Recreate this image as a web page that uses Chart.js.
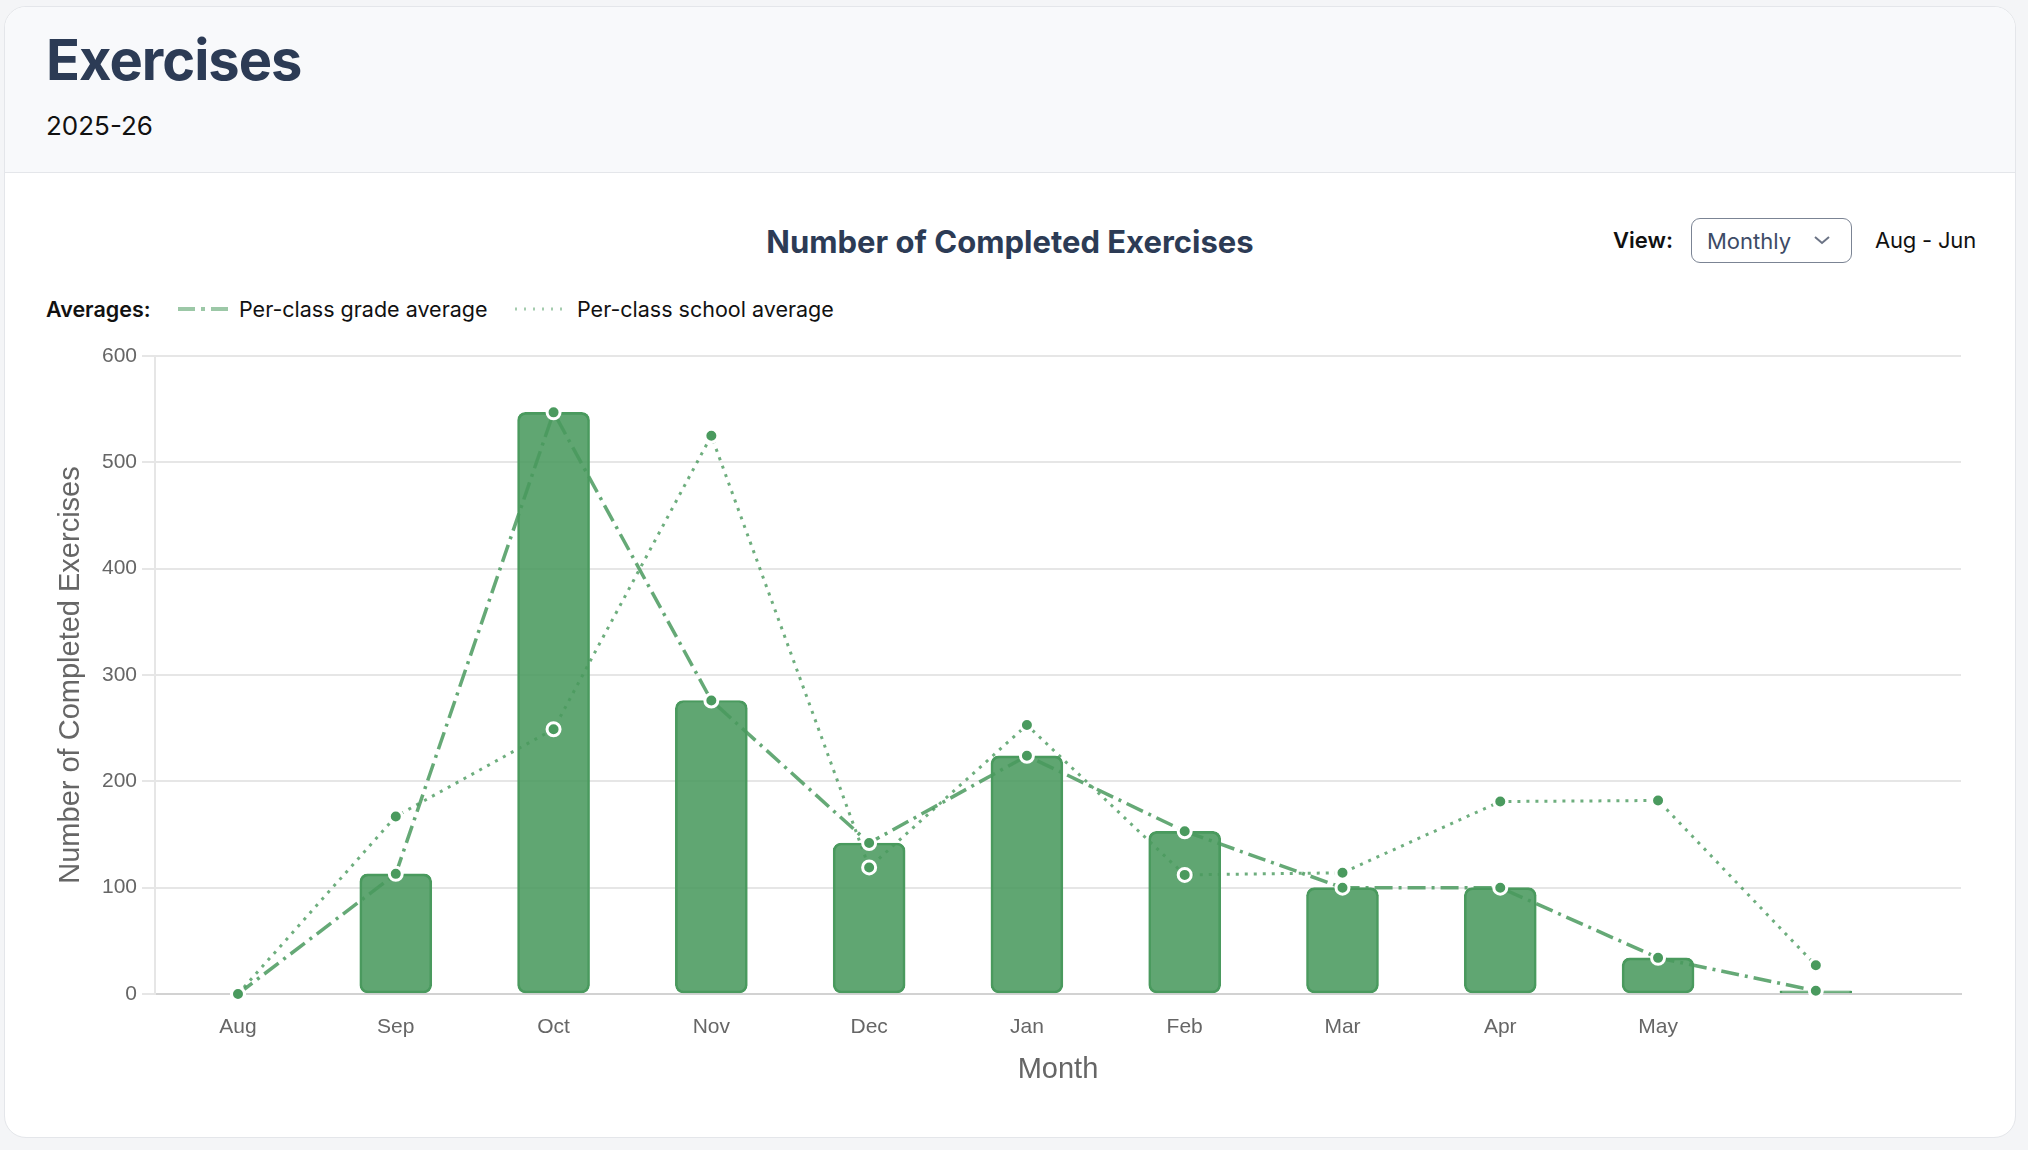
<!DOCTYPE html>
<html>
<head>
<meta charset="utf-8">
<title>Exercises</title>
<script src="https://cdn.jsdelivr.net/npm/chart.js@4.4.1/dist/chart.umd.min.js"></script>
<style>
  html, body { margin: 0; padding: 0; }
  body {
    width: 2028px; height: 1150px; position: relative; overflow: hidden;
    background: #f4f5f7;
    font-family: Inter, "Noto Sans", sans-serif;
  }
  .card {
    position: absolute; left: 4px; top: 6px; width: 2012px; height: 1132px;
    box-sizing: border-box; background: #fff;
    border: 1px solid #e4e6ea; border-radius: 22px; overflow: hidden;
  }
  .card-head {
    position: absolute; left: 0; top: 0; right: 0; height: 165px;
    background: #f8f9fb; border-bottom: 1px solid #e4e6ea;
  }
  .abs { position: absolute; white-space: nowrap; line-height: 1; }
  .title { left: 46px; top: 32px; font-size: 56px; font-weight: 700; color: #2c3b55; letter-spacing: -1px; }
  .year { left: 46px; top: 113px; font-size: 26px; color: #111; }
  .chart-title { left: 0; width: 2020px; text-align: center; top: 226px; font-size: 31px; font-weight: 700; color: #2c3b55; }
  .view { left: 1613px; top: 229px; font-size: 22px; font-weight: 600; color: #111; }
  .select {
    position: absolute; left: 1691px; top: 218px; width: 161px; height: 45px;
    box-sizing: border-box; border: 1.5px solid #7b8494; border-radius: 9px; background: #fff;
  }
  .select span { left: 15px; top: 11px; font-size: 22px; color: #3d4b66; }
  .select svg { position: absolute; left: 121px; top: 15px; }
  .range { left: 1875px; top: 229px; font-size: 22px; color: #111; letter-spacing: -0.2px; }
  .legend-label { top: 299px; font-size: 21.5px; color: #111; }
  #wrap { position: absolute; left: 0; top: 330px; width: 2000px; height: 774px; }
</style>
</head>
<body>
<div class="card"><div class="card-head"></div></div>

<div class="abs title">Exercises</div>
<div class="abs year">2025-26</div>

<div class="abs chart-title">Number of Completed Exercises</div>
<div class="abs view">View:</div>
<div class="select">
  <span class="abs">Monthly</span>
  <svg width="18" height="12"><polyline points="2,3 9,9 16,3" fill="none" stroke="#6b7385" stroke-width="2"/></svg>
</div>
<div class="abs range">Aug - Jun</div>

<div class="abs legend-label" style="left:46px;font-weight:600">Averages:</div>
<svg class="abs" style="left:177px;top:302px" width="54" height="14">
  <line x1="1" y1="7" x2="52" y2="7" stroke="rgba(74,154,94,0.55)" stroke-width="4" stroke-dasharray="17 6 4 6"/>
</svg>
<div class="abs legend-label" style="left:239px">Per-class grade average</div>
<svg class="abs" style="left:513px;top:302px" width="54" height="14">
  <line x1="2" y1="7" x2="52" y2="7" stroke="rgba(74,154,94,0.5)" stroke-width="3" stroke-dasharray="2 7"/>
</svg>
<div class="abs legend-label" style="left:577px">Per-class school average</div>

<div id="wrap"><canvas id="exercisesChart"></canvas></div>

<script>
const months = ['Aug', 'Sep', 'Oct', 'Nov', 'Dec', 'Jan', 'Feb', 'Mar', 'Apr', 'May', ''];
const completed = [0, 113, 547, 276, 142, 224, 153, 100, 100, 34, 3];
const gradeAverage = [0, 113, 547, 276, 142, 224, 153, 100, 100, 34, 3];
const schoolAverage = [0, 167, 249, 525, 119, 253, 112, 114, 181, 182, 27];
const yTicks = [0, 100, 200, 300, 400, 500, 600];

const green = '#4a9a5e';

// linear x axis so the month slots line up with the original spacing
const toPoints = arr => arr.map((v, i) => ({ x: i, y: v }));

Chart.defaults.font.family = '"Liberation Sans", Arial, Helvetica, sans-serif';
Chart.defaults.color = '#666';

const ctx = document.getElementById('exercisesChart').getContext('2d');

new Chart(ctx, {
    type: 'bar',
    data: {
        datasets: [
            {
                type: 'line',
                label: 'Per-class grade average',
                data: toPoints(gradeAverage),
                borderColor: 'rgba(74,154,94,0.85)',
                borderWidth: 3.5,
                borderDash: [18, 6, 3, 6],
                pointRadius: 6.5,
                pointBackgroundColor: green,
                pointBorderColor: '#fff',
                pointBorderWidth: 3,
                tension: 0,
                clip: false,
                order: 1
            },
            {
                type: 'line',
                label: 'Per-class school average',
                data: toPoints(schoolAverage),
                borderColor: 'rgba(74,154,94,0.8)',
                borderWidth: 3,
                borderDash: [3, 6],
                pointRadius: 6.5,
                pointBackgroundColor: green,
                pointBorderColor: '#fff',
                pointBorderWidth: 3,
                tension: 0,
                clip: false,
                order: 2
            },
            {
                type: 'bar',
                label: 'Completed exercises',
                data: toPoints(completed),
                backgroundColor: 'rgba(74,154,94,0.88)',
                borderColor: green,
                borderWidth: 2,
                borderRadius: 8,
                borderSkipped: false,
                barThickness: 72,
                order: 3
            }
        ]
    },
    options: {
        responsive: true,
        maintainAspectRatio: false,
        animation: false,
        layout: {
            padding: { top: 26, right: 39, bottom: 0, left: 0 }
        },
        plugins: {
            legend: { display: false },
            tooltip: { enabled: false }
        },
        scales: {
            x: {
                type: 'linear',
                offset: false,
                min: -0.526,
                max: 10.92,
                afterFit: scale => { scale.height = 110; },
                grid: { display: false, drawTicks: false },
                border: { color: '#d2d2d2', width: 2 },
                ticks: {
                    stepSize: 1,
                    includeBounds: false,
                    padding: 21,
                    font: { size: 21 },
                    callback: value => months[value] ?? ''
                },
                title: {
                    display: true,
                    text: 'Month',
                    font: { size: 29 },
                    padding: { top: 0, bottom: 17 }
                }
            },
            y: {
                min: yTicks[0],
                max: yTicks[yTicks.length - 1],
                afterFit: scale => { scale.width = 155; },
                grid: { color: '#e6e6e6', lineWidth: 2, tickLength: 13 },
                border: { color: '#e6e6e6', width: 2 },
                ticks: {
                    stepSize: yTicks[1] - yTicks[0],
                    padding: 5,
                    font: { size: 21 }
                },
                title: {
                    display: true,
                    text: 'Number of Completed Exercises',
                    font: { size: 29 },
                    padding: { top: 54, bottom: 0 }
                }
            }
        }
    }
});
</script>
</body>
</html>
